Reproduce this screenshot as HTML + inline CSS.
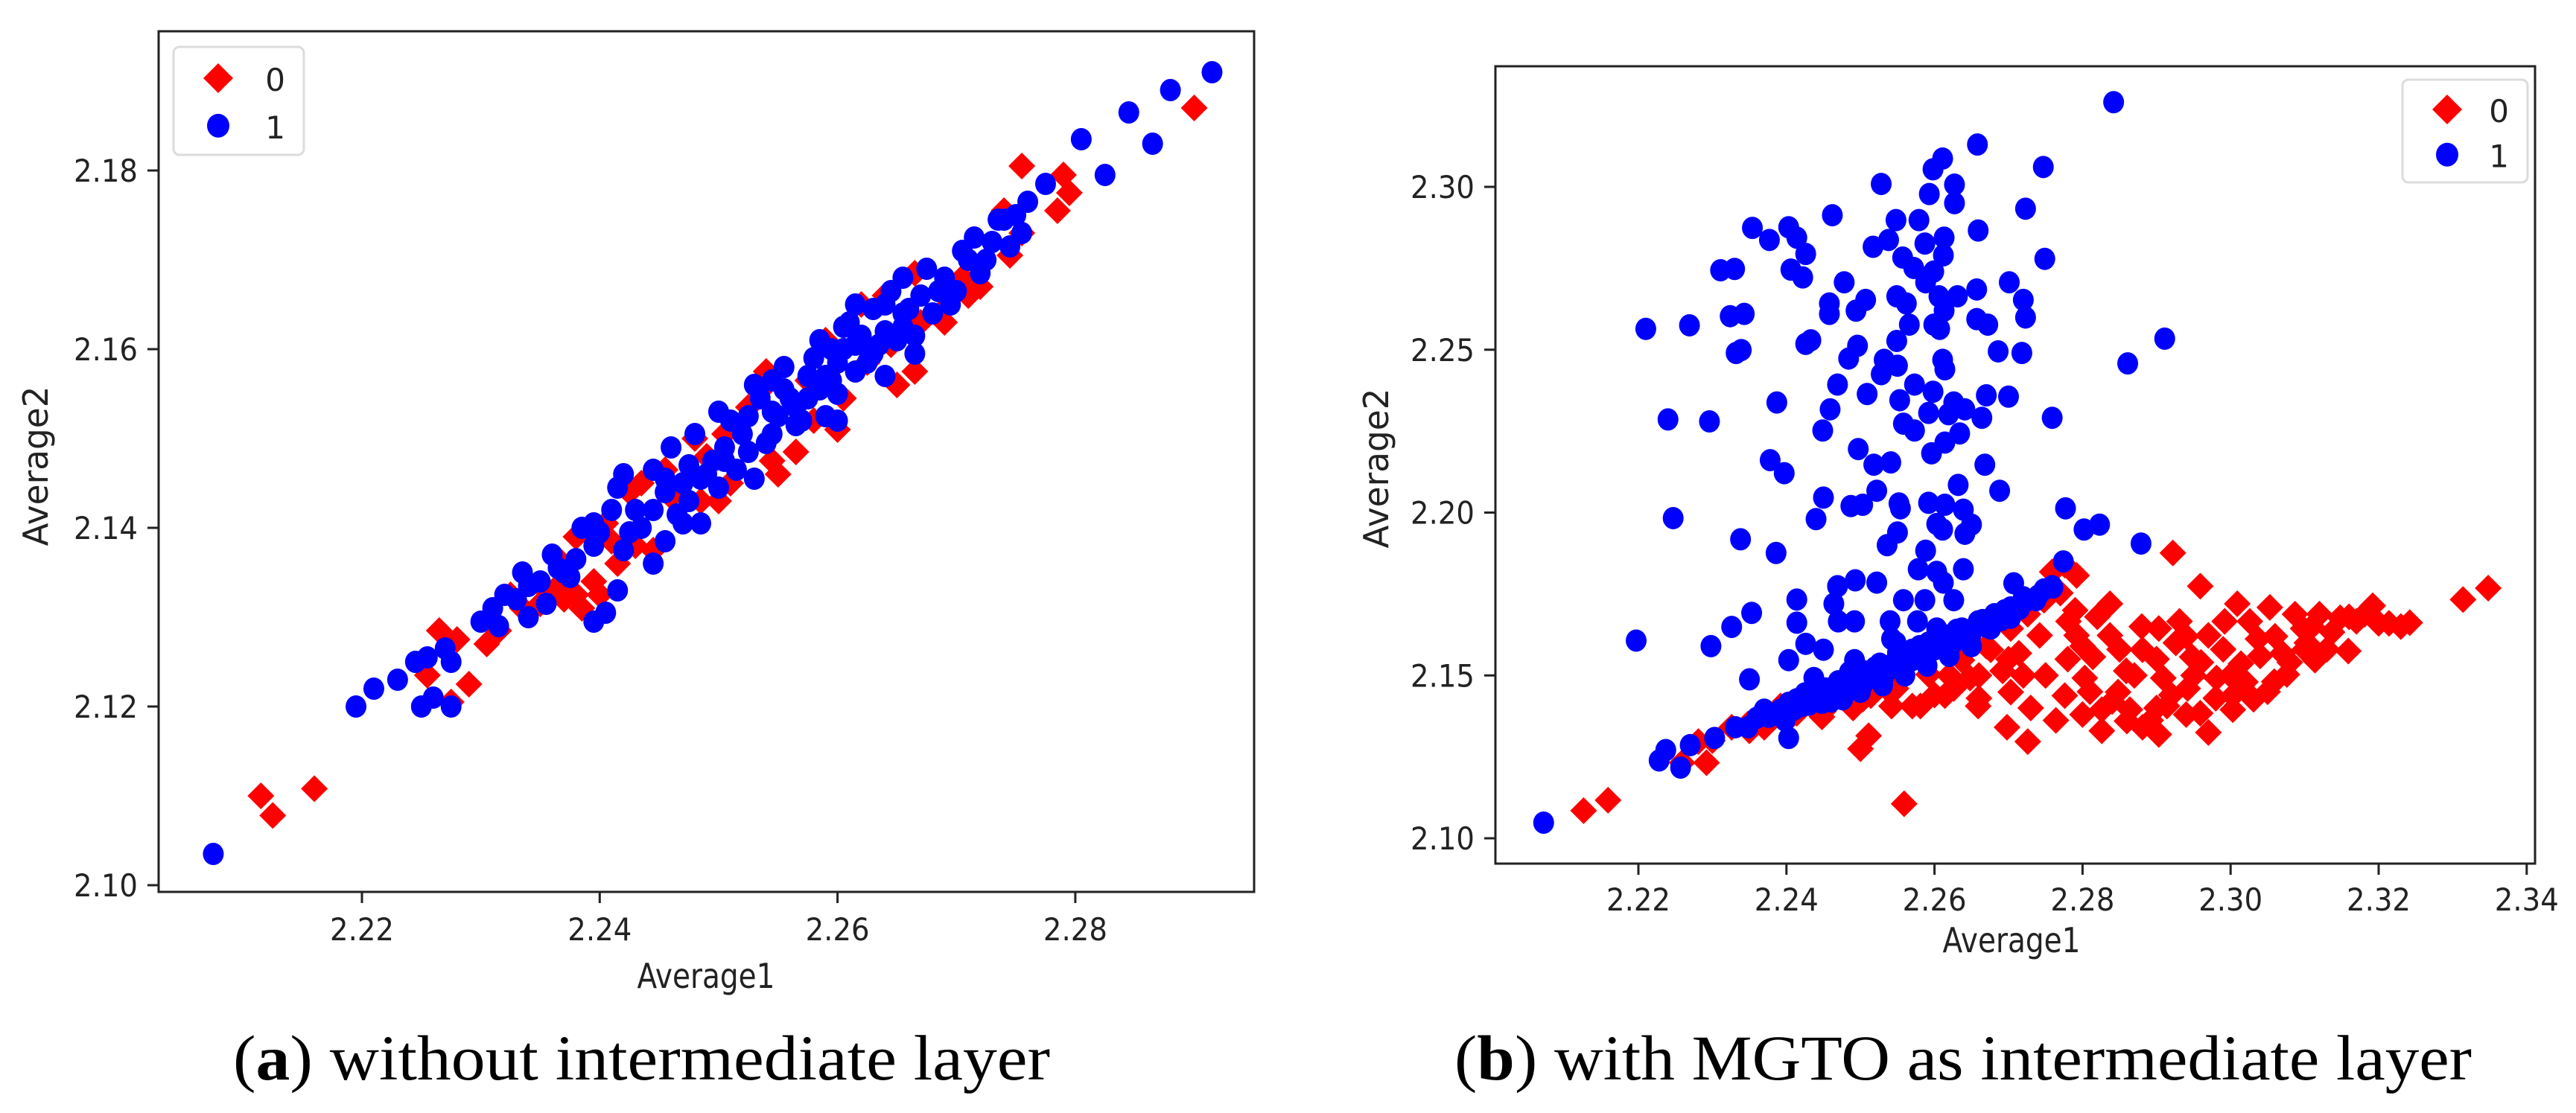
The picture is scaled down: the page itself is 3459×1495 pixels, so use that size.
<!DOCTYPE html>
<html><head><meta charset="utf-8"><style>
html,body{margin:0;padding:0;background:#fff;}
svg{display:block;}
.tk{font-family:"DejaVu Sans","Liberation Sans",sans-serif;font-size:42px;fill:#222;}
.at{font-family:"DejaVu Sans","Liberation Sans",sans-serif;font-size:46px;fill:#222;}
.cap{font-family:"Liberation Serif",serif;font-size:86px;fill:#000;}
</style></head><body>
<svg id="fig" width="3459" height="1495" viewBox="0 0 3459 1495" xmlns="http://www.w3.org/2000/svg">
<g id="pa"></g>
<g id="pb"></g>
<text class="cap" x="313" y="1450" textLength="1097" lengthAdjust="spacingAndGlyphs">(<tspan font-weight="bold">a</tspan>) without intermediate layer</text>
<text class="cap" x="1953" y="1450" textLength="1366" lengthAdjust="spacingAndGlyphs">(<tspan font-weight="bold">b</tspan>) with MGTO as intermediate layer</text>
</svg>
<script>
const aXTicks=[2.22,2.24,2.26,2.28];
const aYTicks=[2.10,2.12,2.14,2.16,2.18];
const bXTicks=[2.22,2.24,2.26,2.28,2.30,2.32,2.34];
const bYTicks=[2.10,2.15,2.20,2.25,2.30];
const aRed=[[2.2115,2.110],[2.2125,2.1078],[2.216,2.1108],[2.2275,2.1205],[2.229,2.1225],[2.2255,2.1235],[2.2265,2.1285],[2.228,2.1275],[2.2305,2.127],[2.2315,2.1285],[2.2335,2.131],[2.235,2.1315],[2.2365,2.1335],[2.238,2.1325],[2.2395,2.134],[2.238,2.139],[2.2415,2.136],[2.243,2.138],[2.2445,2.1375],[2.2435,2.145],[2.246,2.1435],[2.2485,2.143],[2.249,2.148],[2.251,2.145],[2.2525,2.1535],[2.254,2.1575],[2.2545,2.1475],[2.2565,2.1485],[2.258,2.152],[2.2605,2.1545],[2.2625,2.1585],[2.262,2.165],[2.2645,2.1605],[2.2665,2.1575],[2.267,2.163],[2.269,2.1645],[2.2705,2.168],[2.272,2.167],[2.274,2.1755],[2.2745,2.1705],[2.2755,2.1805],[2.2785,2.1755],[2.279,2.1795],[2.2795,2.1775],[2.290,2.187],[2.2755,2.173],[2.2665,2.1685],[2.2575,2.1565],[2.2505,2.1505],[2.2455,2.1465],[2.2405,2.1405],[2.2365,2.1365],[2.2325,2.1325],[2.2370,2.1320],[2.2385,2.1310],[2.2400,2.1325],[2.2355,2.1330],[2.2410,2.1385],[2.2425,2.1440],[2.2500,2.1430],[2.2550,2.1460],[2.2600,2.1510],[2.2650,2.1560],[2.2690,2.1630],[2.2710,2.1660],[2.2640,2.1660],[2.2590,2.1610],[2.2540,2.1560],[2.2480,2.1500]];
const aBlue=[[2.2075,2.1035],[2.2195,2.12],[2.221,2.122],[2.223,2.123],[2.2245,2.125],[2.225,2.12],[2.2255,2.1255],[2.226,2.121],[2.2275,2.12],[2.227,2.1265],[2.2275,2.125],[2.23,2.1295],[2.2315,2.129],[2.232,2.1325],[2.2335,2.135],[2.234,2.1335],[2.2355,2.1315],[2.236,2.137],[2.237,2.135],[2.2375,2.1345],[2.238,2.1365],[2.2395,2.1405],[2.24,2.1395],[2.2395,2.1295],[2.2405,2.1305],[2.2415,2.133],[2.2415,2.1445],[2.243,2.142],[2.2445,2.1465],[2.2445,2.136],[2.2455,2.144],[2.247,2.145],[2.247,2.1405],[2.2485,2.1405],[2.248,2.1505],[2.2495,2.1475],[2.25,2.1445],[2.251,2.152],[2.2525,2.1485],[2.253,2.1455],[2.2535,2.1545],[2.255,2.1525],[2.2555,2.1555],[2.2565,2.1535],[2.2575,2.157],[2.2585,2.1555],[2.259,2.1525],[2.2595,2.16],[2.26,2.1585],[2.2605,2.1625],[2.2615,2.1605],[2.2625,2.1585],[2.263,2.1645],[2.264,2.162],[2.2645,2.1665],[2.2655,2.164],[2.2665,2.1615],[2.2665,2.1595],[2.2675,2.169],[2.2685,2.1665],[2.2695,2.165],[2.2705,2.171],[2.2715,2.1725],[2.272,2.1685],[2.2725,2.17],[2.274,2.1745],[2.2745,2.1715],[2.2755,2.173],[2.276,2.1765],[2.2775,2.1785],[2.2805,2.1835],[2.2825,2.1795],[2.2845,2.1865],[2.2865,2.183],[2.288,2.189],[2.2915,2.191],[2.2545,2.1505],[2.2565,2.1515],[2.2505,2.1475],[2.2465,2.1415],[2.2425,2.1395],[2.2455,2.1385],[2.2575,2.1545],[2.2595,2.1565],[2.2615,2.1575],[2.2635,2.1605],[2.2655,2.1625],[2.2545,2.1565],[2.2525,2.1525],[2.2485,2.1455],[2.2445,2.1420],[2.2455,2.1455],[2.2475,2.1430],[2.2490,2.1460],[2.2505,2.1490],[2.2515,2.1465],[2.2520,2.1505],[2.2540,2.1495],[2.2545,2.1530],[2.2560,2.1545],[2.2570,2.1520],[2.2580,2.1590],[2.2590,2.1570],[2.2600,2.1550],[2.2605,2.1600],[2.2610,2.1630],[2.2620,2.1615],[2.2630,2.1595],[2.2640,2.1650],[2.2650,2.1610],[2.2660,2.1645],[2.2670,2.1660],[2.2680,2.1640],[2.2690,2.1680],[2.2700,2.1665],[2.2710,2.1700],[2.2730,2.1720],[2.2735,2.1745],[2.2750,2.1750],[2.2395,2.1380],[2.2410,2.1420],[2.2420,2.1375],[2.2435,2.1400],[2.2350,2.1340],[2.2365,2.1355],[2.2330,2.1320],[2.2340,2.1300],[2.2310,2.1310],[2.2500,2.1530],[2.2530,2.1560],[2.2555,2.1580],[2.2585,2.1610],[2.2615,2.1650],[2.2655,2.1680],[2.2475,2.1470],[2.2460,2.1490],[2.2420,2.1460],[2.2385,2.1400],[2.2600,2.1520],[2.2640,2.1570]];
const bRed=[[2.2126,2.1085],[2.2159,2.1117],[2.2559,2.1106],[2.25,2.1275],[2.2511,2.1315],[2.2922,2.1876],[2.3348,2.1768],[2.3314,2.1733],[2.3242,2.1662],[2.3214,2.166],[2.3192,2.1714],[2.3159,2.1575],[2.317,2.1666],[2.312,2.1688],[2.3098,2.1644],[2.3076,2.1503],[2.3053,2.1709],[2.3031,2.1427],[2.3009,2.172],[2.2992,2.1666],[2.2959,2.1774],[2.297,2.1325],[2.2931,2.1666],[2.2903,2.1644],[2.2881,2.1341],[2.2892,2.1362],[2.2826,2.133],[2.2837,2.172],[2.2792,2.1807],[2.2759,2.1818],[2.277,2.1753],[2.2781,2.1666],[2.2742,2.1623],[2.2726,2.1297],[2.2698,2.1341],[2.2692,2.1514],[2.2659,2.1406],[2.2626,2.146],[2.257,2.1406],[2.2542,2.1406],[2.2448,2.1373],[2.2859,2.1514],[2.2848,2.1449],[2.2909,2.1492],[2.2948,2.1557],[2.2981,2.1492],[2.3014,2.1536],[2.3037,2.1612],[2.307,2.1568],[2.3103,2.16],[2.3137,2.1633],[2.3114,2.1547],[2.3059,2.1481],[2.3003,2.1395],[2.2942,2.146],[2.2914,2.1406],[2.2864,2.1395],[2.2803,2.1492],[2.2776,2.1438],[2.2764,2.1362],[2.2703,2.1449],[2.2676,2.1579],[2.2714,2.1568],[2.2837,2.1623],[2.2814,2.1557],[2.2792,2.1623],[2.2881,2.1579],[2.2926,2.16],[2.297,2.1623],[2.3026,2.1666],[2.3087,2.1688],[2.3148,2.1677],[2.3181,2.1688],[2.3003,2.1438],[2.2959,2.1384],[2.2826,2.1395],[2.2903,2.1319],[2.2259,2.1232],[2.2292,2.1232],[2.2281,2.1297],[2.2326,2.1341],[2.237,2.1341],[2.2414,2.1384],[2.2503,2.1427],[2.2548,2.146],[2.2592,2.1503],[2.2637,2.1547],[2.267,2.159],[2.2703,2.1644],[2.2726,2.1688],[2.2748,2.1731],[2.2776,2.1839],[2.2348,2.1351],[2.2392,2.1406],[2.2481,2.1492],[2.257,2.1557],[2.2614,2.16],[2.2514,2.1438],[2.2581,2.1406],[2.2614,2.1438],[2.2648,2.1492],[2.2800,2.1590],[2.2820,2.1680],[2.2850,2.1580],[2.2870,2.1500],[2.2880,2.1650],[2.2900,2.1550],[2.2920,2.1440],[2.2940,2.1620],[2.2960,2.1540],[2.2990,2.1580],[2.3020,2.1480],[2.3040,2.1560],[2.3060,2.1620],[2.3080,2.1540],[2.3110,2.1650],[2.3130,2.1580],[2.3160,2.1680],[2.3200,2.1660],[2.3230,2.1650],[2.2790,2.1700],[2.2810,2.1450],[2.2840,2.1420],[2.2860,2.1360],[2.2900,2.1400],[2.2940,2.1380],[2.2980,2.1430],[2.3000,2.1500],[2.2750,2.1500],[2.2730,2.1400],[2.2780,2.1550],[2.2700,2.1550],[2.2660,2.1500],[2.2620,2.1500],[2.2600,2.1440],[2.2540,2.1450],[2.2490,2.1400],[2.2450,2.1390],[2.2400,2.1360],[2.2350,2.1330],[2.2300,2.1300],[2.2660,2.1430],[2.2720,2.1500],[2.2800,2.1380],[2.2950,2.1500],[2.3050,2.1450],[2.3100,2.1580]];
const bBlue=[[2.2072,2.1048],[2.2842,2.3260],[2.2658,2.3130],[2.2747,2.3061],[2.2611,2.3087],[2.2598,2.3054],[2.2627,2.3007],[2.2528,2.3009],[2.2593,2.2978],[2.2627,2.2950],[2.2723,2.2933],[2.2462,2.2913],[2.2548,2.2898],[2.2579,2.2898],[2.2354,2.2874],[2.2377,2.2837],[2.2403,2.2876],[2.2414,2.2844],[2.2426,2.2794],[2.2406,2.2746],[2.2422,2.2722],[2.2311,2.2744],[2.2330,2.2748],[2.2517,2.2816],[2.2538,2.2837],[2.2587,2.2826],[2.2613,2.2844],[2.2659,2.2866],[2.2612,2.2790],[2.2557,2.2783],[2.2572,2.2751],[2.2599,2.2740],[2.2749,2.2779],[2.2478,2.2707],[2.2701,2.2707],[2.2458,2.2642],[2.2494,2.2620],[2.2507,2.2653],[2.2549,2.2664],[2.2562,2.2642],[2.2588,2.2707],[2.2606,2.2664],[2.2631,2.2664],[2.2657,2.2685],[2.2720,2.2653],[2.2723,2.2599],[2.2324,2.2603],[2.2343,2.2610],[2.2210,2.2564],[2.2269,2.2575],[2.2458,2.2610],[2.2566,2.2577],[2.2599,2.2577],[2.2657,2.2594],[2.2672,2.2577],[2.2911,2.2534],[2.2426,2.2518],[2.2433,2.2529],[2.2496,2.2512],[2.2484,2.2473],[2.2549,2.2527],[2.2607,2.2564],[2.2613,2.2620],[2.2332,2.2490],[2.2339,2.2499],[2.2532,2.2469],[2.2528,2.2425],[2.2550,2.2451],[2.2573,2.2393],[2.2611,2.2469],[2.2614,2.2440],[2.2686,2.2495],[2.2718,2.2490],[2.2861,2.2458],[2.2509,2.2364],[2.2553,2.2345],[2.2598,2.2371],[2.2626,2.2338],[2.2641,2.2317],[2.2670,2.2360],[2.2700,2.2356],[2.2469,2.2393],[2.2387,2.2338],[2.2459,2.2317],[2.2449,2.2252],[2.2240,2.2286],[2.2296,2.2280],[2.2759,2.2291],[2.2558,2.2273],[2.2573,2.2252],[2.2614,2.2215],[2.2634,2.2243],[2.2592,2.2306],[2.2619,2.2302],[2.2664,2.2291],[2.2497,2.2195],[2.2596,2.2182],[2.2518,2.2147],[2.2541,2.2154],[2.2378,2.2161],[2.2397,2.2121],[2.2668,2.2147],[2.2450,2.2046],[2.2487,2.2020],[2.2503,2.2024],[2.2522,2.2067],[2.2552,2.2028],[2.2554,2.2013],[2.2592,2.2030],[2.2614,2.2024],[2.2639,2.2009],[2.2688,2.2067],[2.2632,2.2085],[2.2247,2.1983],[2.2440,2.1980],[2.2603,2.1965],[2.2611,2.1948],[2.2650,2.1963],[2.2641,2.1935],[2.2777,2.2013],[2.2802,2.1948],[2.2823,2.1963],[2.2338,2.1918],[2.2386,2.1876],[2.2536,2.1900],[2.2550,2.1939],[2.2588,2.1883],[2.2774,2.1850],[2.2879,2.1905],[2.2578,2.1826],[2.2603,2.1818],[2.2639,2.1826],[2.2612,2.1785],[2.2493,2.1792],[2.2469,2.1774],[2.2522,2.1785],[2.2414,2.1733],[2.2464,2.1720],[2.2558,2.1731],[2.2587,2.1731],[2.2626,2.1731],[2.2707,2.1783],[2.2759,2.1774],[2.2353,2.1692],[2.2470,2.1666],[2.2492,2.1666],[2.2540,2.1666],[2.2577,2.1666],[2.2414,2.1662],[2.2326,2.1649],[2.2197,2.1607],[2.2298,2.1590],[2.2426,2.1597],[2.2403,2.1547],[2.2350,2.1488],[2.2542,2.1612],[2.2450,2.1579],[2.2228,2.1239],[2.2237,2.1271],[2.2257,2.1217],[2.2270,2.1286],[2.2303,2.1308],[2.2331,2.1341],[2.2348,2.1341],[2.2376,2.1373],[2.2392,2.1395],[2.2403,2.1308],[2.2414,2.1427],[2.2437,2.1438],[2.2453,2.1460],[2.2470,2.1482],[2.2492,2.1492],[2.2503,2.1514],[2.2526,2.1536],[2.2548,2.1547],[2.2570,2.1579],[2.2592,2.1601],[2.2614,2.1623],[2.2637,2.1644],[2.2659,2.1666],[2.2681,2.1688],[2.2703,2.1709],[2.2726,2.1731],[2.2748,2.1764],[2.2398,2.1362],[2.2420,2.1406],[2.2448,2.1416],[2.2476,2.1427],[2.2503,2.1471],[2.2531,2.1492],[2.2559,2.1525],[2.2587,2.1557],[2.2614,2.1590],[2.2648,2.1612],[2.2676,2.1644],[2.2703,2.1677],[2.2737,2.1731],[2.2370,2.1395],[2.2437,2.1492],[2.2492,2.1547],[2.2548,2.1601],[2.2603,2.1644],[2.2403,2.1416],[2.2459,2.1438],[2.2514,2.1503],[2.2570,2.1547],[2.2626,2.1612],[2.2360,2.1370],[2.2385,2.1380],[2.2410,2.1395],[2.2425,2.1445],[2.2445,2.1455],[2.2465,2.1445],[2.2480,2.1475],[2.2485,2.1510],[2.2510,2.1490],[2.2520,2.1525],[2.2540,2.1520],[2.2550,2.1570],[2.2565,2.1555],[2.2580,2.1590],[2.2600,2.1580],[2.2605,2.1615],[2.2625,2.1600],[2.2630,2.1640],[2.2650,2.1630],[2.2665,2.1670],[2.2670,2.1650],[2.2690,2.1670],[2.2695,2.1700],[2.2715,2.1705],[2.2720,2.1740],[2.2740,2.1745],[2.2760,2.1770],[2.2430,2.1410],[2.2460,2.1420],[2.2500,2.1450],[2.2530,2.1470],[2.2560,2.1500],[2.2590,2.1530],[2.2620,2.1560],[2.2650,2.1590]];

const NS='http://www.w3.org/2000/svg';
function mk(tag,attrs,parent){const e=document.createElementNS(NS,tag);for(const k in attrs)e.setAttribute(k,attrs[k]);parent.appendChild(e);return e;}

function drawPanel(g,cfg){
  const sx=v=>cfg.x0+(v-cfg.xv0)/cfg.xstep*cfg.xpx;
  const sy=v=>cfg.y0-(v-cfg.yv0)/cfg.ystep*cfg.ypx;
  const plot=mk('rect',{x:cfg.L,y:cfg.T,width:cfg.R-cfg.L,height:cfg.B-cfg.T,fill:'#fff'},g);
  
  
  const red=mk('g',{},g);
  
  
  cfg.red.forEach(p=>{
    const cx=sx(p[0]),cy=sy(p[1]),d=18;
    const m=mk('polygon',{points:`${cx},${cy-d} ${cx+d},${cy} ${cx},${cy+d} ${cx-d},${cy}`,fill:'#ff0000'},red);
    
    
  });
  const blue=mk('g',{},g);
  
  
  cfg.blue.forEach(p=>{
    const m=mk('ellipse',{cx:sx(p[0]),cy:sy(p[1]),rx:14,ry:15,fill:'#0000ff'},blue);
    
    
  });
  const fr=mk('rect',{x:cfg.L,y:cfg.T,width:cfg.R-cfg.L,height:cfg.B-cfg.T,fill:'none',stroke:'#222','stroke-width':3},g);
  
  
  cfg.xt.forEach(v=>{
    const x=sx(v);
    const t=mk('line',{x1:x,x2:x,y1:cfg.B,y2:cfg.B+15,stroke:'#222','stroke-width':3},g);
    
    
    const l=mk('text',{x:x,y:cfg.B+cfg.xlOff,'text-anchor':'middle',class:'tk',textLength:86,lengthAdjust:'spacingAndGlyphs'},g);
    l.textContent=v.toFixed(2);
    
    
  });
  cfg.yt.forEach(v=>{
    const y=sy(v);
    const t=mk('line',{x1:cfg.L-15,x2:cfg.L,y1:y,y2:y,stroke:'#222','stroke-width':3},g);
    
    
    const l=mk('text',{x:cfg.L-28,y:y+15,'text-anchor':'end',class:'tk',textLength:86,lengthAdjust:'spacingAndGlyphs'},g);
    l.textContent=v.toFixed(2);
    
    
  });
  const xl=mk('text',{x:cfg.xlab[0],y:cfg.xlab[1],'text-anchor':'middle',class:'at',textLength:185,lengthAdjust:'spacingAndGlyphs'},g);
  xl.textContent='Average1';
  
  
  const yl=mk('text',{x:0,y:0,'text-anchor':'middle',class:'at',textLength:215,lengthAdjust:'spacingAndGlyphs',transform:`translate(${cfg.ylab[0]},${cfg.ylab[1]}) rotate(-90)`},g);
  yl.textContent='Average2';
  
  
  const lg=mk('g',{},g);
  
  
  const [lx,ly,lw,lh]=cfg.leg;
  mk('rect',{x:lx,y:ly,width:lw,height:lh,rx:8,fill:'#fff','fill-opacity':0.85,stroke:'#dcdcdc','stroke-width':3},lg);
  const mx=lx+60,r0=ly+lh*0.29,r1=ly+lh*0.73;
  mk('polygon',{points:`${mx},${r0-20} ${mx+20},${r0} ${mx},${r0+20} ${mx-20},${r0}`,fill:'#ff0000'},lg);
  mk('ellipse',{cx:mx,cy:r1,rx:15,ry:16,fill:'#0000ff'},lg);
  const t0=mk('text',{x:lx+lw-25,y:r0+17,'text-anchor':'end',class:'tk'},lg);t0.textContent='0';
  
  
  const t1=mk('text',{x:lx+lw-25,y:r1+17,'text-anchor':'end',class:'tk'},lg);t1.textContent='1';
  
  
}
drawPanel(document.getElementById('pa'),{L:213,R:1684,T:42,B:1198,x0:486,xv0:2.22,xstep:0.02,xpx:319.3,y0:1189,yv0:2.10,ystep:0.02,ypx:240,
  red:aRed,blue:aBlue,xt:aXTicks,yt:aYTicks,xlOff:65,xlab:[948,1327],ylab:[64,626],leg:[233,63,175,145]});
drawPanel(document.getElementById('pb'),{L:2008,R:3404,T:89,B:1160,x0:2200,xv0:2.22,xstep:0.02,xpx:198.8,y0:1126,yv0:2.10,ystep:0.05,ypx:218.75,
  red:bRed,blue:bBlue,xt:bXTicks,yt:bYTicks,xlOff:63,xlab:[2701,1279],ylab:[1864,629],leg:[3226,107,168,138]});
</script>
</body></html>
